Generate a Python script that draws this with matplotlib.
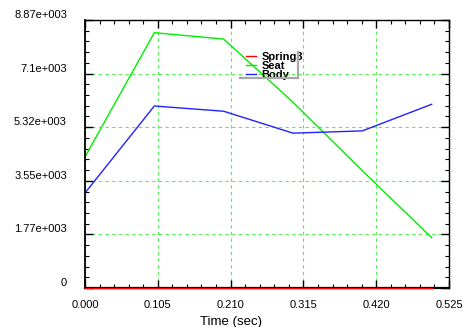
import matplotlib
matplotlib.use("Agg")
import matplotlib.pyplot as plt
from matplotlib.ticker import FixedLocator, FixedFormatter, AutoMinorLocator
from matplotlib.lines import Line2D

plt.rcParams['font.family'] = ['Liberation Sans', 'DejaVu Sans']

# ---- data ----
time = [0.0, 0.1, 0.2, 0.3, 0.4, 0.5]
spring3 = [0, 0, 0, 0, 0, 0]
seat = [4340, 8450, 8240, 6150, 3880, 1665]
body = [3145, 6024, 5850, 5125, 5200, 6080]

x_ticks = [0.0, 0.105, 0.21, 0.315, 0.42, 0.525]
x_labels = ["0.000", "0.105", "0.210", "0.315", "0.420", "0.525"]
y_ticks = [0, 1774, 3548, 5322, 7096, 8870]
y_labels = ["0", "1.77e+003", "3.55e+003", "5.32e+003", "7.1e+003", "8.87e+003"]

fig = plt.figure(figsize=(4.62, 3.27), dpi=100)
ax = fig.add_axes([85 / 462, 39 / 327, 364 / 462, 268 / 327])

grid_col = "#55ee55"
ax.plot(time, spring3, color="#ff0000", lw=1.0, label="Spring3", clip_on=False, zorder=5)
ax.plot(time, seat, color="#00ee00", lw=1.0, label="Seat")
ax.plot(time, body, color="#2222ff", lw=1.0, label="Body")

ax.set_xlim(0, 0.525)
ax.set_ylim(0, 8870)
ax.xaxis.set_major_locator(FixedLocator(x_ticks))
ax.xaxis.set_major_formatter(FixedFormatter(x_labels))
ax.yaxis.set_major_locator(FixedLocator(y_ticks))
ax.yaxis.set_major_formatter(FixedFormatter(y_labels))
ax.xaxis.set_minor_locator(AutoMinorLocator(5))
ax.yaxis.set_minor_locator(AutoMinorLocator(5))

ax.grid(True, which="major", color=grid_col, ls=(0, (3, 3)), lw=0.8)
ax.tick_params(which="both", direction="in", top=True, right=True, colors="black",
               labelsize=8)
ax.tick_params(which="major", length=6, width=1.0)
ax.tick_params(which="minor", length=3, width=0.8)
ax.tick_params(axis="x", pad=9)
ax.tick_params(axis="y", pad=13)
for lab in ax.get_yticklabels():
    lab.set_verticalalignment("bottom")

for sp in ax.spines.values():
    sp.set_color("black")
    sp.set_linewidth(1.0)
ax.spines["bottom"].set_linewidth(1.6)
ax.spines["left"].set_linewidth(1.3)

ax.set_xlabel("Time (sec)", fontsize=9.5, labelpad=0)
ax.xaxis.set_label_coords(0.40, -0.105)

leg = ax.legend(loc="upper left", bbox_to_anchor=(0.422, 0.91), frameon=False,
                prop={"weight": "bold", "size": 8}, labelspacing=-0.1,
                handlelength=0.9, handletextpad=0.45, borderpad=0.2)

# shadow edge of the legend box
shadow = "#a8a8a8"
ax.add_line(Line2D([0.427, 0.585], [0.784, 0.784], transform=ax.transAxes,
                   color=shadow, lw=1.6, zorder=6))
ax.add_line(Line2D([0.585, 0.585], [0.784, 0.88], transform=ax.transAxes,
                   color=shadow, lw=1.6, zorder=6))

fig.savefig("out.png", dpi=100)
